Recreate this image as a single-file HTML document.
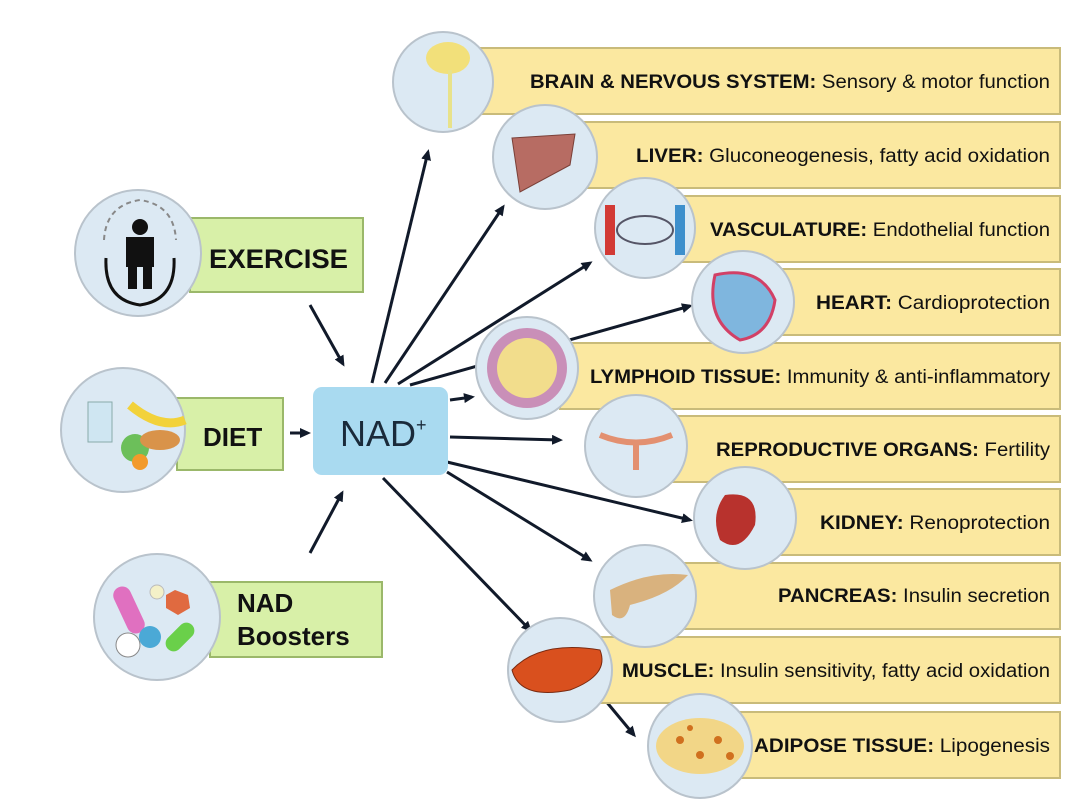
<!DOCTYPE html>
<html><head><meta charset="utf-8"><style>
html,body{margin:0;padding:0;background:#fff;}
svg{display:block;font-family:"Liberation Sans",Arial,sans-serif;}
</style></head><body>
<svg width="1080" height="803" viewBox="0 0 1080 803" xmlns="http://www.w3.org/2000/svg">
<defs>
<marker id="ah" markerWidth="11" markerHeight="10" refX="8" refY="5" orient="auto" markerUnits="userSpaceOnUse"><path d="M0,0 L11,5 L0,10 Z" fill="#111a2a"/></marker>
</defs>
<rect width="1080" height="803" fill="#fff"/>

<g stroke="#111a2a" stroke-width="3" fill="none" marker-end="url(#ah)">
<line x1="310" y1="305" x2="343" y2="364"/>
<line x1="290" y1="433" x2="308" y2="433"/>
<line x1="310" y1="553" x2="342" y2="493"/>
<line x1="372" y1="383" x2="428" y2="152"/>
<line x1="385" y1="383" x2="503" y2="207"/>
<line x1="398" y1="384" x2="590" y2="263"/>
<line x1="410" y1="385" x2="690" y2="306"/>
<line x1="450" y1="400" x2="472" y2="397"/>
<line x1="450" y1="437" x2="560" y2="440"/>
<line x1="447" y1="462" x2="690" y2="520"/>
<line x1="447" y1="472" x2="590" y2="560"/>
<line x1="383" y1="478" x2="530" y2="630"/>
<line x1="595" y1="688" x2="634" y2="735"/>
</g>

<g fill="#fbe8a0" stroke="#c9bb7a" stroke-width="2">
<rect x="462" y="48" width="598" height="66"/>
<rect x="540" y="122" width="520" height="66"/>
<rect x="620" y="196" width="440" height="66"/>
<rect x="740" y="269" width="320" height="66"/>
<rect x="560" y="343" width="500" height="66"/>
<rect x="640" y="416" width="420" height="66"/>
<rect x="760" y="489" width="300" height="66"/>
<rect x="663" y="563" width="397" height="66"/>
<rect x="590" y="637" width="470" height="66"/>
<rect x="700" y="712" width="360" height="66"/>
</g>
<g font-size="19" fill="#111" text-anchor="end">
<text x="1050" y="88" textLength="520" lengthAdjust="spacingAndGlyphs"><tspan font-weight="bold">BRAIN &amp; NERVOUS SYSTEM:</tspan> Sensory &amp; motor function</text>
<text x="1050" y="162" textLength="414" lengthAdjust="spacingAndGlyphs"><tspan font-weight="bold">LIVER:</tspan>  Gluconeogenesis, fatty acid oxidation</text>
<text x="1050" y="236" textLength="340" lengthAdjust="spacingAndGlyphs"><tspan font-weight="bold">VASCULATURE:</tspan> Endothelial function</text>
<text x="1050" y="309" textLength="234" lengthAdjust="spacingAndGlyphs"><tspan font-weight="bold">HEART:</tspan>  Cardioprotection</text>
<text x="1050" y="383" textLength="460" lengthAdjust="spacingAndGlyphs"><tspan font-weight="bold">LYMPHOID TISSUE:</tspan> Immunity &amp; anti-inflammatory</text>
<text x="1050" y="456" textLength="334" lengthAdjust="spacingAndGlyphs"><tspan font-weight="bold">REPRODUCTIVE ORGANS:</tspan> Fertility</text>
<text x="1050" y="529" textLength="230" lengthAdjust="spacingAndGlyphs"><tspan font-weight="bold">KIDNEY:</tspan>  Renoprotection</text>
<text x="1050" y="602" textLength="272" lengthAdjust="spacingAndGlyphs"><tspan font-weight="bold">PANCREAS:</tspan> Insulin secretion</text>
<text x="1050" y="677" textLength="428" lengthAdjust="spacingAndGlyphs"><tspan font-weight="bold">MUSCLE:</tspan> Insulin sensitivity, fatty acid oxidation</text>
<text x="1050" y="752" textLength="296" lengthAdjust="spacingAndGlyphs"><tspan font-weight="bold">ADIPOSE TISSUE:</tspan>  Lipogenesis</text>
</g>

<g fill="#dce9f3" stroke="#b9c3cc" stroke-width="2">
<circle cx="443" cy="82" r="50"/>
<circle cx="545" cy="157" r="52"/>
<circle cx="645" cy="228" r="50"/>
<circle cx="743" cy="302" r="51"/>
<circle cx="527" cy="368" r="51"/>
<circle cx="636" cy="446" r="51"/>
<circle cx="745" cy="518" r="51"/>
<circle cx="645" cy="596" r="51"/>
<circle cx="560" cy="670" r="52"/>
<circle cx="700" cy="746" r="52"/>
</g>
<ellipse cx="448" cy="58" rx="22" ry="16" fill="#f2e07a"/>
<line x1="450" y1="70" x2="450" y2="128" stroke="#e8e28a" stroke-width="4"/>
<path d="M512,138 L575,134 L570,165 L520,192 Z" fill="#b76c63" stroke="#7a4038"/>
<rect x="605" y="205" width="10" height="50" fill="#d23a35"/><rect x="675" y="205" width="10" height="50" fill="#3d8fcc"/>
<ellipse cx="645" cy="230" rx="28" ry="14" fill="none" stroke="#556" stroke-width="2"/>
<path d="M715,275 Q760,265 775,300 Q770,335 740,340 Q705,320 715,275Z" fill="#7fb6de" stroke="#d24066" stroke-width="3"/>
<circle cx="527" cy="368" r="40" fill="#c98fb8"/><circle cx="527" cy="368" r="30" fill="#f2dd8c"/>
<path d="M600,435 Q636,450 672,435 M636,445 L636,470" stroke="#e39070" stroke-width="6" fill="none"/>
<path d="M725,495 Q760,490 755,525 Q740,555 720,540 Q710,515 725,495Z" fill="#b8322d"/>
<path d="M610,590 Q650,570 688,575 Q670,595 630,605 Q625,625 612,615Z" fill="#d9b27e"/>
<path d="M512,670 Q540,640 600,650 Q610,675 570,690 Q520,700 512,670Z" fill="#d9501e" stroke="#7a2a10"/>
<ellipse cx="700" cy="746" rx="44" ry="28" fill="#f2d687"/>
<g fill="#d0701e"><circle cx="680" cy="740" r="4"/><circle cx="700" cy="755" r="4"/><circle cx="718" cy="740" r="4"/><circle cx="690" cy="728" r="3"/><circle cx="730" cy="756" r="4"/></g>

<g fill="#d8f0a8" stroke="#9bb86a" stroke-width="2">
<rect x="190" y="218" width="173" height="74"/>
<rect x="177" y="398" width="106" height="72"/>
<rect x="210" y="582" width="172" height="75"/>
</g>
<g fill="#dce9f3" stroke="#b9c3cc" stroke-width="2">
<circle cx="138" cy="253" r="63"/>
<circle cx="123" cy="430" r="62"/>
<circle cx="157" cy="617" r="63"/>
</g>
<circle cx="140" cy="227" r="8" fill="#111"/>
<rect x="126" y="237" width="28" height="30" fill="#111"/>
<rect x="128" y="265" width="9" height="24" fill="#111"/><rect x="143" y="265" width="9" height="24" fill="#111"/>
<path d="M106,258 Q104,300 140,305 Q176,300 174,258" stroke="#111" stroke-width="3" fill="none"/>
<path d="M104,240 Q106,205 140,200 Q174,205 176,240" stroke="#888" stroke-width="2" stroke-dasharray="5 4" fill="none"/>
<rect x="88" y="402" width="24" height="40" fill="#cfe6f2" stroke="#8aa"/>
<path d="M130,405 Q160,430 185,420" stroke="#f2d23a" stroke-width="9" fill="none"/>
<circle cx="135" cy="448" r="14" fill="#6cbf5a"/>
<ellipse cx="160" cy="440" rx="20" ry="10" fill="#d9934a"/>
<circle cx="140" cy="462" r="8" fill="#f29a2a"/>
<rect x="120" y="585" width="18" height="50" rx="9" fill="#e070c0" transform="rotate(-25 129 610)"/>
<polygon points="175,590 188,595 190,608 178,615 166,608 166,595" fill="#e06a40"/>
<circle cx="157" cy="592" r="7" fill="#f4f1c8" stroke="#bbb"/>
<circle cx="128" cy="645" r="12" fill="#fff" stroke="#888"/>
<circle cx="150" cy="637" r="11" fill="#4ba9d6"/>
<rect x="172" y="620" width="16" height="34" rx="8" fill="#6ad04a" transform="rotate(45 180 637)"/>

<g font-weight="bold" fill="#111">
<text x="209" y="268" font-size="27" textLength="139" lengthAdjust="spacingAndGlyphs">EXERCISE</text>
<text x="203" y="446" font-size="26">DIET</text>
<text x="237" y="612" font-size="26">NAD</text>
<text x="237" y="645" font-size="26">Boosters</text>
</g>

<rect x="313" y="387" width="135" height="88" rx="9" fill="#a9daf0"/>
<text x="340" y="446" font-size="36" fill="#1a2a3a">NAD<tspan font-size="18" dy="-15">+</tspan></text>
</svg>
</body></html>
